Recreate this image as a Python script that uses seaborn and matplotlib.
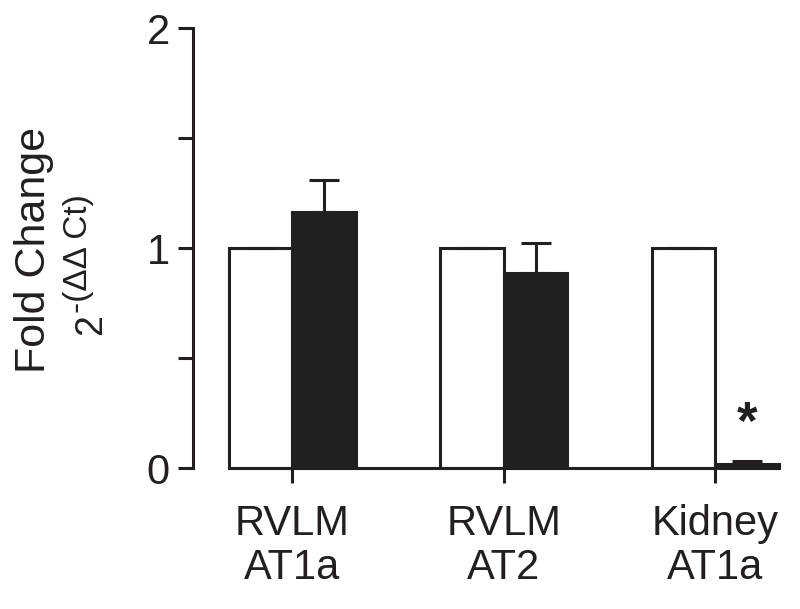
import matplotlib
matplotlib.use("Agg")
import matplotlib.pyplot as plt
import seaborn as sns
import pandas as pd
import numpy as np

# ---- data ----
regions = ["RVLM\nAT1a", "RVLM\nAT2", "Kidney\nAT1a"]
groups = ["Control", "Treated"]
control_values = [1.0, 1.0, 1.0]
control_errors = [0.0, 0.0, 0.0]
treated_values = [1.165, 0.885, 0.02]
treated_errors = [0.145, 0.14, 0.01]
y_ticks = [0, 0.5, 1, 1.5, 2]
y_tick_labels = ["0", "", "1", "", "2"]
ylabel_main = "Fold Change"
ylabel_base = "2"
ylabel_sup = "-(ΔΔ Ct)"
significance = ["", "", "*"]

sns.set_style("ticks")
plt.rcParams["font.family"] = ["Liberation Sans", "DejaVu Sans"]

ink = "#231f20"
lw = 2.2

df = pd.DataFrame({
    "region": regions * 2,
    "group": [groups[0]] * 3 + [groups[1]] * 3,
    "fold": control_values + treated_values,
})

W, H = 800, 609
fig = plt.figure(figsize=(W / 100, H / 100), dpi=100)
ax = fig.add_axes([193 / W, 1 - 468 / H, (W - 193) / W, 440 / H])

sns.barplot(data=df, x="region", y="fold", hue="group", order=regions,
            hue_order=groups, palette=["white", ink], edgecolor=ink,
            linewidth=lw, width=0.6, legend=False, errorbar=None, ax=ax)

for p in ax.patches:
    p.set_clip_on(False)
    p.set_joinstyle("miter")

# error bars positioned from seaborn's bars
bars = sorted(ax.patches, key=lambda p: p.get_x())
xs = [p.get_x() + p.get_width() / 2 for p in bars]
hs = [p.get_height() for p in bars]
errs = []
for c, t in zip(control_errors, treated_errors):
    errs += [c, t]
eb = ax.errorbar(xs, hs, yerr=[np.zeros(len(errs)), errs], fmt="none",
                 ecolor=ink, elinewidth=lw, capsize=11, capthick=lw, zorder=1)
for art in eb.get_children():
    art.set_clip_on(False)

# significance markers
for i, s in enumerate(significance):
    if s:
        idx = 2 * i + 1
        ax.text(xs[idx], hs[idx] + errs[idx] + 0.165, s, ha="center", va="center",
                fontsize=38, fontweight="bold", color=ink)

ax.set_xlim(-0.47, -0.47 + (W - 193) / 211.5)
ax.set_ylim(0, 2)
ax.set_yticks(y_ticks)
ax.set_yticklabels(y_tick_labels)
ax.set_xlabel("")
ax.set_ylabel("")

for side in ["top", "right"]:
    ax.spines[side].set_visible(False)
ax.spines["left"].set_bounds(0, 2)
ax.spines["bottom"].set_bounds(-0.3, 2.3)
for side in ["left", "bottom"]:
    ax.spines[side].set_linewidth(lw)
    ax.spines[side].set_color(ink)

ax.tick_params(axis="both", length=10.8, width=lw, color=ink, labelsize=30,
               labelcolor=ink, direction="out")
ax.tick_params(axis="x", pad=15)
ax.tick_params(axis="y", pad=6)
for lab in ax.get_xticklabels():
    lab.set_multialignment("center")
    lab.set_linespacing(1.15)

# y label (two parts)
fig.text(45 / W, 1 - 250 / H, ylabel_main, rotation=90, rotation_mode="anchor",
         ha="center", va="baseline", fontsize=31, color=ink)
fig.text(101 / W, 1 - 335 / H, ylabel_base, rotation=90, rotation_mode="anchor",
         ha="left", va="baseline", fontsize=27, color=ink)
fig.text(87 / W, 1 - 313 / H, ylabel_sup, rotation=90, rotation_mode="anchor",
         ha="left", va="baseline", fontsize=24, color=ink)

fig.savefig("out.png", dpi=100, facecolor="white")
